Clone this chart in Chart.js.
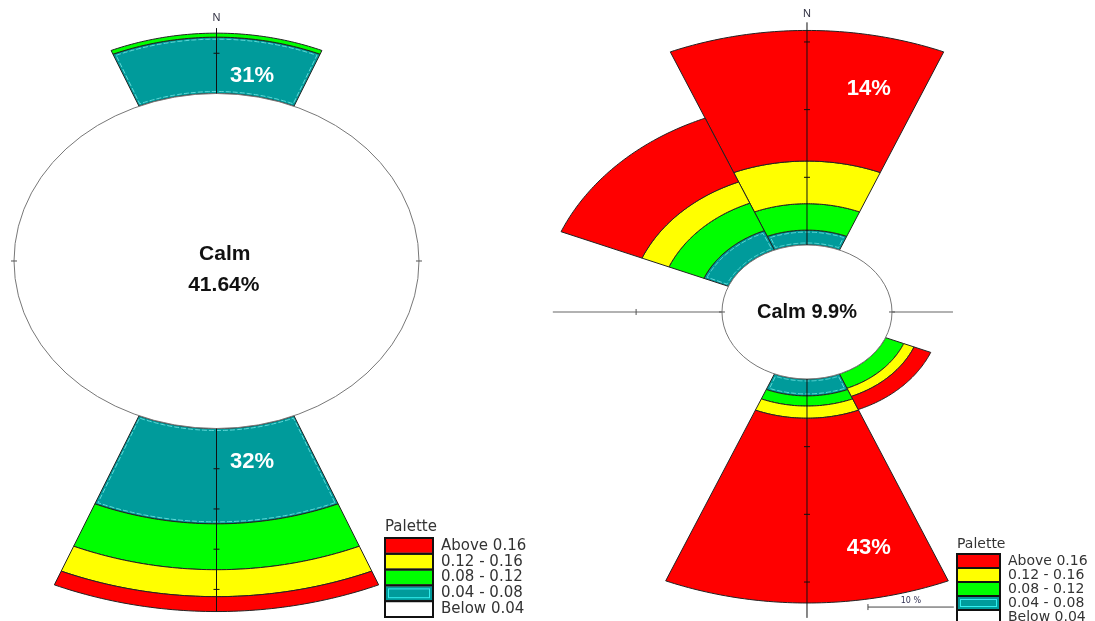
<!DOCTYPE html>
<html>
<head>
<meta charset="utf-8">
<script src="https://cdn.jsdelivr.net/npm/chart.js@4.4.1/dist/chart.umd.min.js"></script>
<style>
  body { margin: 0; background: #fff; }
  #wrap { position: relative; width: 1095px; height: 621px; overflow: hidden; background: #fff; }
  canvas { position: absolute; top: 0; }
  #left { left: 0; }
  #right { left: 545px; }
</style>
</head>
<body>
<div id="wrap">
  <canvas id="left" width="545" height="621"></canvas>
  <canvas id="right" width="550" height="621"></canvas>
</div>
<script>
// palette (legend order, top to bottom)
const binLabels = ['Above 0.16', '0.12 - 0.16', '0.08 - 0.12', '0.04 - 0.08', 'Below 0.04'];
const binColors = ['#ff0000', '#ffff00', '#00ff00', '#009b9b', '#ffffff'];

// left rose: % per class, stacked outward from the calm circle
const leftCalm = 41.64;
const leftDirs = [0, 180];
const leftTeal = [14.0, 23.7];
const leftGreen = [1.0, 11.4];
const leftYellow = [0, 6.7];
const leftRed = [0, 3.7];
const leftPct = ['31%', '32%'];

// right rose
const rightCalm = 9.9;
const rightDirs = [0, 315, 180, 135];
const rightTeal = [2.2, 3.1, 2.5, 0];
const rightGreen = [3.9, 4.4, 1.5, 2.3];
const rightYellow = [6.3, 3.4, 1.8, 1.3];
const rightRed = [19.3, 10.2, 27.3, 2.1];
const rightPct = ['14%', '', '43%', ''];

const ringStep = 10; // axis tick every 10 %

const rad = d => d * Math.PI / 180;

const rosePlugin = {
  id: 'rose',
  afterDraw(chart, args, o) {
    const ctx = chart.ctx;
    const xs = chart.scales.x, ys = chart.scales.y;
    const X = (r, b) => xs.getPixelForValue(r * Math.sin(rad(b)));
    const Y = (r, b) => ys.getPixelForValue(r * Math.cos(rad(b)));
    const unitPx = ys.getPixelForValue(0) - ys.getPixelForValue(1);

    const arcTo = (r, b0, b1, move) => {
      const n = 60;
      for (let i = 0; i <= n; i++) {
        const b = b0 + (b1 - b0) * i / n;
        if (i === 0 && move) ctx.moveTo(X(r, b), Y(r, b));
        else ctx.lineTo(X(r, b), Y(r, b));
      }
    };
    const sector = (r0, r1, b0, b1) => {
      ctx.beginPath();
      arcTo(r1, b0, b1, true);
      arcTo(r0, b1, b0, false);
      ctx.closePath();
    };

    ctx.save();
    // sectors
    const bandColors = ['#009b9b', '#00ff00', '#ffff00', '#ff0000'];
    o.dirs.forEach((dir, i) => {
      let r0 = o.calm;
      o.bands.forEach((band, k) => {
        const v = band[i];
        if (!v) return;
        const r1 = r0 + v;
        sector(r0, r1, dir - 22.5, dir + 22.5);
        ctx.fillStyle = bandColors[k];
        ctx.fill();
        ctx.strokeStyle = '#222';
        ctx.lineWidth = 1;
        ctx.stroke();
        if (k === 0) {
          // light dashed inner rim on the teal class
          const d = 2 / unitPx;
          const da = 2 / (r1 * unitPx) * 180 / Math.PI;
          sector(r0 + d, r1 - d, dir - 22.5 + da, dir + 22.5 - da);
          ctx.setLineDash([5, 2]);
          ctx.strokeStyle = '#5fd8d8';
          ctx.stroke();
          ctx.setLineDash([]);
        }
        r0 = r1;
      });
    });

    // calm circle
    ctx.beginPath();
    arcTo(o.calm, 0, 360, true);
    ctx.closePath();
    ctx.fillStyle = '#fff';
    ctx.fill();
    ctx.strokeStyle = '#777';
    ctx.lineWidth = 1;
    ctx.stroke();

    // vertical axis
    const ax = o.axis;
    ctx.strokeStyle = '#111';
    ctx.beginPath();
    ctx.moveTo(X(o.calm, 0), Y(o.calm, 0));
    ctx.lineTo(X(ax.top, 0), Y(ax.top, 0));
    ctx.moveTo(X(o.calm, 180), Y(o.calm, 180));
    ctx.lineTo(X(ax.bottom, 180), Y(ax.bottom, 180));
    for (let r = o.calm + ringStep; r < ax.top; r += ringStep) {
      ctx.moveTo(X(r, 0) - 3, Y(r, 0));
      ctx.lineTo(X(r, 0) + 3, Y(r, 0));
    }
    for (let r = o.calm + ringStep; r < ax.bottom; r += ringStep) {
      ctx.moveTo(X(r, 180) - 3, Y(r, 180));
      ctx.lineTo(X(r, 180) + 3, Y(r, 180));
    }
    ctx.stroke();

    // horizontal axis
    ctx.strokeStyle = '#999';
    ctx.lineWidth = 1.5;
    ctx.beginPath();
    if (ax.west > o.calm) {
      ctx.moveTo(X(o.calm, 270), Y(o.calm, 270));
      ctx.lineTo(X(ax.west, 270), Y(ax.west, 270));
    }
    if (ax.east > o.calm) {
      ctx.moveTo(X(o.calm, 90), Y(o.calm, 90));
      ctx.lineTo(X(ax.east, 90), Y(ax.east, 90));
    }
    ctx.stroke();
    ctx.strokeStyle = '#555';
    ctx.lineWidth = 1;
    ctx.beginPath();
    [[270, ax.west], [90, ax.east]].forEach(([b, lim]) => {
      ctx.moveTo(X(o.calm, b) - 3, Y(o.calm, b));
      ctx.lineTo(X(o.calm, b) + 3, Y(o.calm, b));
      for (let r = o.calm + ringStep; r < lim; r += ringStep) {
        ctx.moveTo(X(r, b), Y(r, b) - 3);
        ctx.lineTo(X(r, b), Y(r, b) + 3);
      }
    });
    ctx.stroke();

    // texts
    ctx.textAlign = 'center';
    ctx.textBaseline = 'middle';
    o.texts.forEach(t => {
      ctx.font = t.font;
      ctx.fillStyle = t.color;
      ctx.fillText(t.text, xs.getPixelForValue(t.x), ys.getPixelForValue(t.y));
    });

    // scale bar
    if (o.bar) {
      const b = o.bar;
      const x0 = xs.getPixelForValue(b.x), x1 = xs.getPixelForValue(b.x + ringStep);
      const yb = ys.getPixelForValue(b.y);
      ctx.strokeStyle = '#444';
      ctx.beginPath();
      ctx.moveTo(x0, yb); ctx.lineTo(x1, yb);
      ctx.moveTo(x0, yb - 3); ctx.lineTo(x0, yb + 3);
      ctx.stroke();
      ctx.font = '8px "DejaVu Sans"';
      ctx.fillStyle = '#335';
      ctx.fillText(ringStep + ' %', (x0 + x1) / 2, yb - 6);
    }

    // palette legend
    const L = o.legend;
    ctx.textAlign = 'left';
    ctx.font = L.size + 'px "DejaVu Sans"';
    ctx.fillStyle = '#333';
    ctx.fillText('Palette', L.x, L.y - L.row * 0.7);
    binLabels.forEach((lab, i) => {
      const yy = L.y + i * L.row;
      ctx.fillStyle = binColors[i];
      ctx.fillRect(L.x + 1, yy + 1, L.w - 2, L.row - 2);
      if (i === 3) {
        ctx.strokeStyle = '#3ee';
        ctx.strokeRect(L.x + 3.5, yy + 3.5, L.w - 7, L.row - 7);
      }
      ctx.strokeStyle = '#111';
      ctx.lineWidth = 2;
      ctx.strokeRect(L.x, yy, L.w, L.row);
      ctx.lineWidth = 1;
      ctx.fillStyle = '#333';
      ctx.fillText(lab, L.x + L.w + 8, yy + L.row / 2);
    });
    ctx.restore();
  }
};

function makeRose(id, xr, yr, opts) {
  new Chart(document.getElementById(id), {
    type: 'scatter',
    data: { datasets: [] },
    options: {
      responsive: false,
      animation: false,
      events: [],
      layout: { padding: 0 },
      scales: {
        x: { type: 'linear', display: false, min: xr[0], max: xr[1] },
        y: { type: 'linear', display: false, min: yr[0], max: yr[1] }
      },
      plugins: { legend: { display: false }, tooltip: { enabled: false }, rose: opts }
    },
    plugins: [rosePlugin]
  });
}

const bold = s => 'bold ' + s + 'px "Liberation Sans", Arial, sans-serif';

makeRose('left', [-44.52, 67.55], [-89.49, 64.88], {
  calm: leftCalm,
  dirs: leftDirs,
  bands: [leftTeal, leftGreen, leftYellow, leftRed],
  axis: { top: 57.9, bottom: 87.2, west: 0, east: 0 },
  texts: [
    { text: 'N', x: 0, y: 60.4, font: '11px "Liberation Sans", Arial', color: '#334' },
    { text: leftPct[0], x: 7.3, y: 46.0, font: bold(22), color: '#fff' },
    { text: leftPct[1], x: 7.3, y: -50.0, font: bold(22), color: '#fff' },
    { text: 'Calm', x: 1.7, y: 1.7, font: bold(21), color: '#111' },
    { text: leftCalm.toFixed(2) + '%', x: 1.5, y: -6.0, font: bold(21), color: '#111' }
  ],
  legend: { x: 385, y: 538, w: 48, row: 15.8, size: 15 }
});

makeRose('right', [-30.51, 33.54], [-45.66, 46.1], {
  calm: rightCalm,
  dirs: rightDirs,
  bands: [rightTeal, rightGreen, rightYellow, rightRed],
  axis: { top: 42.8, bottom: 45.2, west: 29.6, east: 17.0 },
  texts: [
    { text: 'N', x: 0, y: 44.0, font: '11px "Liberation Sans", Arial', color: '#334' },
    { text: rightPct[0], x: 7.2, y: 32.9, font: bold(22), color: '#fff' },
    { text: rightPct[2], x: 7.2, y: -34.8, font: bold(22), color: '#fff' },
    { text: 'Calm ' + rightCalm + '%', x: 0, y: -0.1, font: bold(20), color: '#111' }
  ],
  bar: { x: 7.1, y: -43.6 },
  legend: { x: 412, y: 554, w: 43, row: 14, size: 14 }
});
</script>
</body>
</html>
